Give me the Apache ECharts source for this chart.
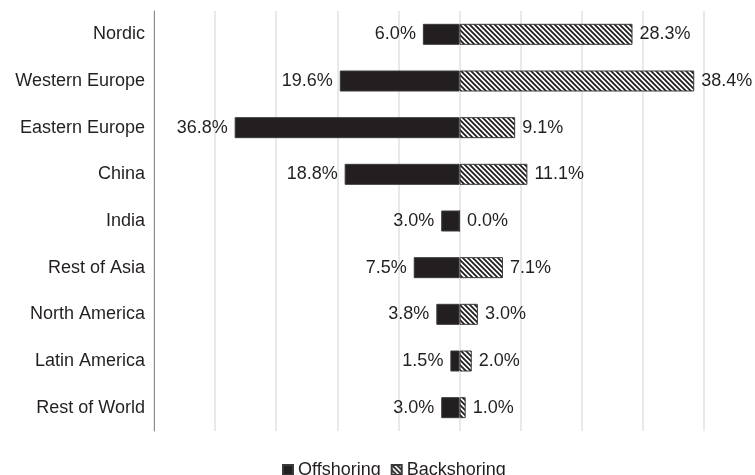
<!DOCTYPE html>
<html>
<head>
<meta charset="utf-8">
<script src="https://cdn.jsdelivr.net/npm/echarts@6/dist/echarts.min.js"></script>
<style>html,body{margin:0;padding:0;background:#fff}#c{width:755px;height:475px}</style>
</head>
<body>
<div id="c"></div>
<script>
const categories = ['Nordic','Western Europe','Eastern Europe','China','India','Rest of Asia','North America','Latin America','Rest of World'];
const offshoring = [6.0, 19.6, 36.8, 18.8, 3.0, 7.5, 3.8, 1.5, 3.0];
const backshoring = [28.3, 38.4, 9.1, 11.1, 0.0, 7.1, 3.0, 2.0, 1.0];
const seriesNames = ['Offshoring', 'Backshoring'];

function hatch() {
  const s = 5;
  const c = document.createElement('canvas');
  c.width = s; c.height = s;
  const g = c.getContext('2d');
  g.fillStyle = '#fff'; g.fillRect(0, 0, s, s);
  g.strokeStyle = '#231f20'; g.lineWidth = 1.8;
  g.beginPath();
  g.moveTo(-1, -1); g.lineTo(s + 1, s + 1);
  g.moveTo(-1, s - 1); g.lineTo(1, s + 1);
  g.moveTo(s - 1, -1); g.lineTo(s + 1, 1);
  g.stroke();
  return c;
}

const font = '"Liberation Sans", Arial, Helvetica, sans-serif';
const txt = '#231f20';
const chart = echarts.init(document.getElementById('c'), null, {renderer: 'canvas'});
chart.setOption({
  animation: false,
  backgroundColor: '#fff',
  textStyle: {fontFamily: font},
  grid: {left: 154, right: 51, top: 11, bottom: 44, containLabel: false},
  legend: {
    data: seriesNames, left: 277, top: 456, itemWidth: 10, itemHeight: 10, itemGap: 10,
    icon: 'rect',
    textStyle: {fontSize: 18, color: txt, fontFamily: font}
  },
  xAxis: {
    type: 'value', min: -50, max: 40, interval: 10,
    axisLabel: {show: false}, axisLine: {show: false}, axisTick: {show: false},
    splitLine: {show: true, lineStyle: {color: '#e2e2e2', width: 1.5}}
  },
  yAxis: {
    type: 'category', data: categories, inverse: true,
    axisLine: {show: true, onZero: false, lineStyle: {color: '#8c8c8c', width: 1}},
    axisTick: {show: false},
    axisLabel: {fontSize: 18, color: txt, margin: 9, fontFamily: font}
  },
  series: [
    {
      name: seriesNames[0], type: 'bar', barWidth: 21, barGap: '-100%',
      data: offshoring.map(v => -v),
      itemStyle: {color: '#231f20', borderColor: '#3a3a3a', borderWidth: 1},
      label: {show: true, position: 'left', distance: 7, fontSize: 18, color: txt, fontFamily: font,
        formatter: p => Math.abs(p.value).toFixed(1) + '%'}
    },
    {
      name: seriesNames[1], type: 'bar', barWidth: 21, barGap: '-100%',
      data: backshoring,
      itemStyle: {color: {image: hatch(), repeat: 'repeat'}, borderColor: '#3a3a3a', borderWidth: 1},
      label: {show: true, position: 'right', distance: 7, fontSize: 18, color: txt, fontFamily: font,
        formatter: p => p.value.toFixed(1) + '%'}
    }
  ]
});
</script>
</body>
</html>
